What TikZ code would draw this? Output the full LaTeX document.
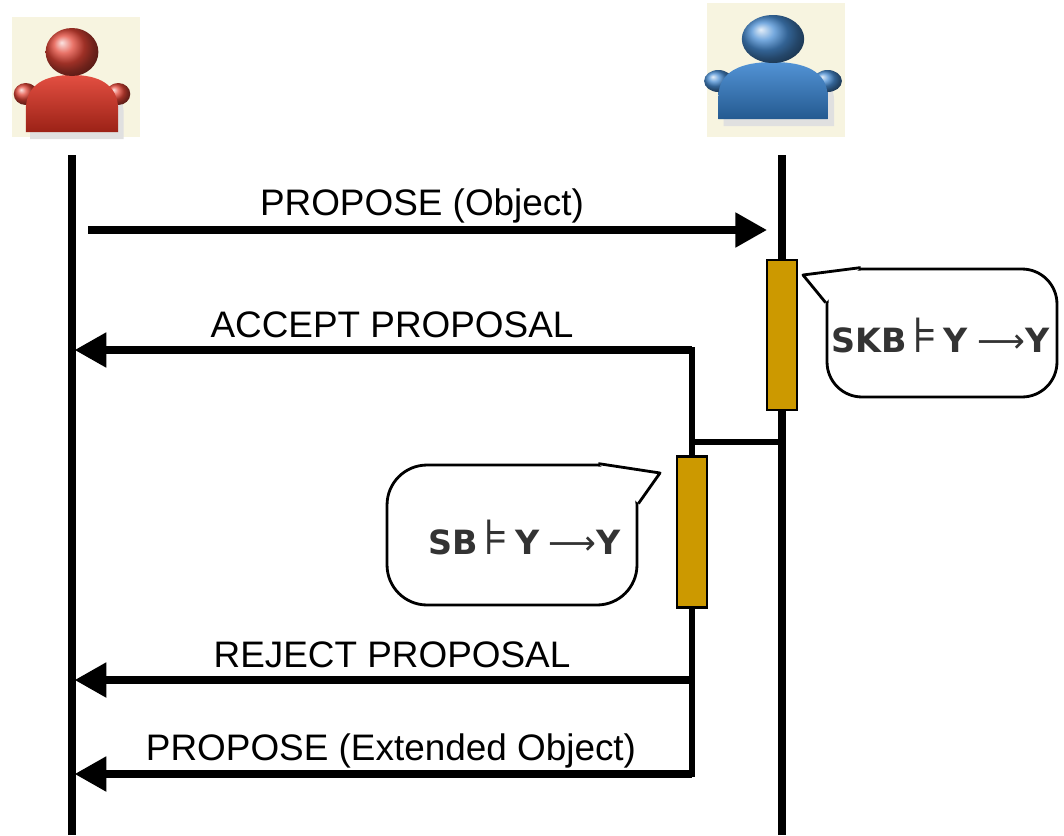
\documentclass[tikz,border=0pt]{standalone}
\usepackage{fontspec}
\setmainfont{Liberation Sans}
\newfontfamily\symfont{DejaVu Sans}
\usepackage{tikz}
\usetikzlibrary{arrows.meta}

\definecolor{agentred}{RGB}{222,48,32}
\definecolor{agentblue}{RGB}{52,128,206}
\definecolor{iconbg}{RGB}{247,244,224}
\definecolor{actfill}{RGB}{204,153,0}

\begin{document}
\begin{tikzpicture}[x=0.02cm, y=-0.02cm,
  lifeline/.style={line width=4pt},
  msg/.style={line width=4pt, -{Triangle[length=18pt,width=19pt]}},
  link/.style={line width=3.6pt},
  msgtext/.style={anchor=base, inner sep=0pt, font=\fontsize{21}{25}\selectfont},
  actbar/.style={draw, line width=1.2pt, fill=actfill, minimum width=0.6cm, inner sep=0pt},
  bubble/.style={draw, line width=1.6pt, fill=white, inner sep=0pt},
  formula/.style={inner sep=0pt, text=black!80, font=\symfont\fontsize{19}{23}\selectfont}]
\useasboundingbox (0,0) rectangle (1064,835);

% the two agents
\node[fill=iconbg, minimum width=2.56cm, minimum height=2.4cm] (initiator) at (76,77) {};
\node[fill=iconbg, minimum width=2.76cm, minimum height=2.7cm] (participant) at (776,70) {};
\foreach \bx/\by/\s/\col in {72/132/1.1/agentred, 773/119/1.3/agentblue}
{
  \begin{scope}[shift={(\bx,\by)}, xscale=\s]
    \fill[black!12] (-38,7) -- (-38,-18) .. controls (-38,-44) and (-20,-52) .. (4,-52) .. controls (28,-52) and (47,-44) .. (47,-18) -- (47,7) -- cycle;
    \shade[ball color=\col!90!white] (-42,-38) circle[radius=11];
    \shade[ball color=\col!90!white] (42,-38) circle[radius=11];
    \shade[top color=\col!85!white, bottom color=\col!70!black] (-42,0) -- (-42,-22) .. controls (-42,-48) and (-24,-57) .. (0,-57) .. controls (24,-57) and (42,-48) .. (42,-22) -- (42,0) -- cycle;
    \shade[ball color=\col!90!white] (0,-80) circle[radius=24];
  \end{scope}
}

% lifelines
\coordinate (lA) at (72,155);
\coordinate (lAend) at (72,835);
\coordinate (lB) at (782,155);
\coordinate (lBend) at (782,835);
\draw[lifeline] (lA) -- (lAend);
\draw[lifeline] (lB) -- (lBend);

% messages
\coordinate (send) at (88,230);
\coordinate (recv) at (767,230);
\coordinate (fork) at (692,350);
\coordinate (split) at (692,442);
\coordinate (reject) at (692,680);
\coordinate (extend) at (692,774);

\draw[msg] (send) -- (recv);
\draw[link, line cap=rect] (fork) -- (extend);
\draw[link] (split) -- (split -| lB);
\draw[msg, shorten >=1.5pt] (fork) -- (fork -| lA);
\draw[msg, shorten >=1.5pt] (reject) -- (reject -| lA);
\draw[msg, shorten >=1.5pt] (extend) -- (extend -| lA);

\node[msgtext] (txtpropose) at (422,215) {PROPOSE (Object)};
\node[msgtext] (txtaccept) at (392,337) {ACCEPT PROPOSAL};
\node[msgtext] (txtreject) at (392,667) {REJECT PROPOSAL};
\node[msgtext] (txtextend) at (391,760) {PROPOSE (Extended Object)};

% activations
\node[actbar, minimum height=3cm] (actB) at (782,335) {};
\node[actbar, minimum height=3.02cm] (actA) at (692,532) {};

% thought bubbles
\coordinate (skbtip) at (803,275);
\node[bubble, rounded corners=0.7cm, minimum width=4.6cm, minimum height=2.56cm] (skbnote) at (942,333) {};
\draw[line width=1.6pt, fill=white, line join=round] ([xshift=0.7cm]skbnote.north west) -- (skbtip) -- ([yshift=-0.7cm]skbnote.north west);
\node[formula] (skbtext) at (941,336) {\textbf{SKB}\,{\fontsize{28}{28}\selectfont ⊧}\,\textbf{Y}\;⟶\textbf{Y}};

\coordinate (sbtip) at (660,473);
\node[bubble, rounded corners=0.8cm, minimum width=5cm, minimum height=2.8cm] (sbnote) at (512,535) {};
\draw[line width=1.6pt, fill=white, line join=round] ([xshift=-0.8cm]sbnote.north east) -- (sbtip) -- ([yshift=-0.8cm]sbnote.north east);
\node[formula] (sbtext) at (525,538) {\textbf{SB}\,{\fontsize{28}{28}\selectfont ⊧}\,\textbf{Y}\;⟶\textbf{Y}};
\end{tikzpicture}
\end{document}
